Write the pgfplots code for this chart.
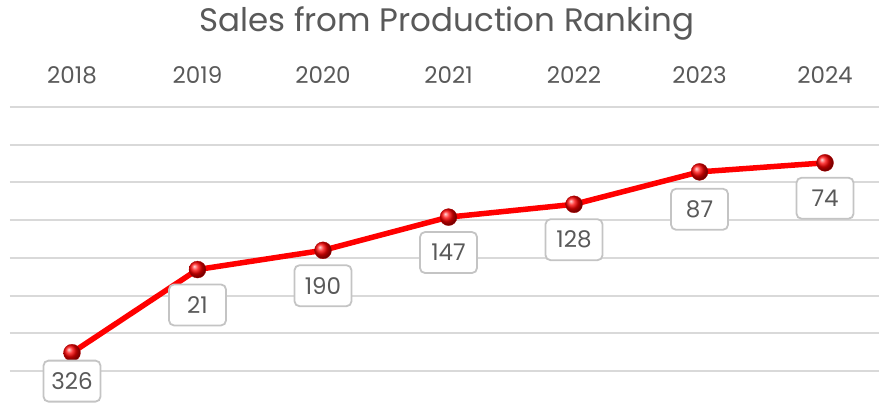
\documentclass[border=0pt]{standalone}
\usepackage{fontspec}
\setmainfont{Poppins}
\usepackage{pgfplots}
\usepackage{pgfplotstable}
\pgfplotsset{compat=1.18}
\definecolor{txt}{HTML}{595959}
\definecolor{gridc}{HTML}{D9D9D9}
\definecolor{boxc}{HTML}{C4C4C4}
\pgfplotstableread{
x y label off
0 0.485 326 7
1 2.69 21 14
2 3.20 190 14
3 4.08 147 14
4 4.42 128 14
5 5.28 87 16
6 5.52 74 14
}\ranking
\begin{document}
\begin{tikzpicture}[x=1pt,y=1pt]
\useasboundingbox (0,0) rectangle (879,402);
\begin{axis}[
  at={(10pt,31pt)}, anchor=south west,
  scale only axis, width=869pt, height=264pt,
  xmin=-0.494, xmax=6.43, ymin=0, ymax=7,
  clip=false,
  axis line style={draw=none},
  xtick={0,1,2,3,4,5,6},
  xticklabels={2018,2019,2020,2021,2022,2023,2024},
  xticklabel pos=right,
  major tick length=0pt,
  xticklabel style={anchor=base, yshift=24pt, text=txt, font=\fontsize{23}{27}\selectfont},
  ytick={0,1,2,3,4,5,6,7},
  yticklabels={},
  ymajorgrids,
  grid style={gridc, line width=2pt},
  /pgf/number format/assume math mode=true,
  title={Sales from Production Ranking},
  title style={anchor=base, at={(0.5025,1)}, yshift=70pt, text=txt, font=\fontsize{32.5}{38}\selectfont},
]
\addplot[
  color=red, line width=5.5pt,
  mark=ball, mark size=8.5pt,
  mark options={ball color=red, line width=0.3pt, draw=red!70!black},
  nodes near coords,
  point meta=explicit symbolic,
  visualization depends on={\thisrow{off} \as \myoff},
  nodes near coords style={anchor=north, yshift=-\myoff pt, draw=boxc, line width=1.8pt,
    rounded corners=5pt, fill=white, text=txt, font=\fontsize{23}{27}\selectfont,
    minimum width=57pt, minimum height=41pt, inner sep=2pt},
] table[x=x, y=y, meta=label] {\ranking};
\end{axis}
\end{tikzpicture}
\end{document}
